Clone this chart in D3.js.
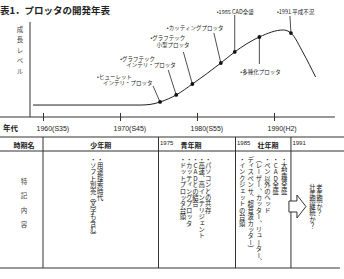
<!DOCTYPE html>
<html><head><meta charset="utf-8">
<script src="https://cdn.jsdelivr.net/npm/d3@7"></script>
<style>
body{margin:0;background:#fff}
text{font-family:"Noto Sans CJK JP",sans-serif;fill:#222}
.vt{writing-mode:vertical-rl;text-orientation:upright}
</style></head><body>
<script>
// axis ticks
const tickYears = [1960, 1970, 1980, 1990]
const tickLabels = ["1960(S35)", "1970(S45)", "1980(S55)", "1990(H2)"]
// growth curve (year, level 0-100)
const curveYears = [1958.7, 1967.4, 1972.6, 1973.9, 1975.2, 1977.3, 1979.4, 1983.1, 1984.9, 1988.1, 1991.2, 1992.2, 1993.8, 1995.4]
const curveLevels = [13.5, 13.5, 13.5, 14.1, 16.7, 24.0, 35.4, 57.3, 68.8, 84.4, 91.7, 88.5, 67.7, 42.7]
// marked events on the curve
const eventYears = [1975.2, 1977.3, 1979.4, 1983.1, 1984.9, 1988.1, 1992.2]
const eventLevels = [16.7, 24.0, 35.4, 57.3, 68.8, 84.4, 88.5]
const eventLabels = [
  ["•ヒューレット", "インテリ・プロッタ"],
  ["•グラフテック", "インテリ・プロッタ"],
  ["•グラフテック", "小型プロッタ"],
  ["•カッティングプロッタ"],
  ["•1985 CAD全盛"],
  ["•多種化プロッタ"],
  ["•1991 平成不況"]
]
// table
const periodBounds = [1960, 1975, 1985, 1992.2]
const periodYears = ["", "1975", "1985", "1991"]
const periodNames = ["少年期", "青年期", "壮年期", ""]
const periodNotes = [
  ["・用途探索時代", "・ソフト別売（文字も含む）"],
  ["・パソコンとの共存", "・高速、高インテリジェント", "・CADとの結合", "・カッティングプロッタ", "・ドットプロッタ台頭"],
  ["・大型機全盛", "・CAD全盛", "・ペン以外のヘッド", "（レーザー、カッター、リューター、", "ディスペンサ、超音波カッター）", "・インクジェットの台頭"],
  ["老年期か？", "壮年期継続か？"]
]

var width = 344, height = 279
var svg = d3.select("body").append("svg").attr("width", width).attr("height", height)

var x = d3.scaleLinear().domain([1960, 1990]).range([43, 274])
var y = d3.scaleLinear().domain([0, 100]).range([118, 22])

// title
svg.append("text").attr("x", 0).attr("y", 14)
  .style("font-size", "9.5px").style("font-weight", "bold")
  .text("表1．プロッタの開発年表")

// y label
svg.append("text").attr("class", "vt").attr("x", 20).attr("y", 26)
  .style("font-size", "6.5px").style("letter-spacing", "4px").style("fill", "#444")
  .text("成長レベル")

// axes
var axisY = 117
svg.append("line").attr("x1", 30).attr("x2", 30).attr("y1", 22).attr("y2", axisY).attr("stroke", "#333")
svg.append("line").attr("x1", 0).attr("x2", 335).attr("y1", axisY).attr("y2", axisY).attr("stroke", "#333")
var xAxis = d3.axisBottom(x).tickValues(tickYears).tickFormat((d, i) => tickLabels[i]).tickSize(4).tickPadding(5)
var gx = svg.append("g").attr("transform", "translate(0," + axisY + ")").call(xAxis)
gx.select(".domain").remove()
gx.selectAll(".tick line").attr("y1", -4).attr("stroke", "#333")
gx.selectAll(".tick text").attr("text-anchor", "start").attr("dx", -7)
  .style("font-size", "7px").style("font-family", "Liberation Sans")
svg.append("text").attr("x", 3).attr("y", 131).style("font-size", "7.5px").style("font-weight", "bold").text("年代")

// curve
var curve = curveYears.map((d, i) => [d, curveLevels[i]])
var line = d3.line().x(d => x(d[0])).y(d => y(d[1])).curve(d3.curveMonotoneX)
svg.append("path").attr("d", line(curve)).attr("fill", "none").attr("stroke", "#222").attr("stroke-width", 1)

// leader line start (lx,ly) and text origin (tx,ty), offsets from the dot
const labelLayout = [
  {lx: -7, ly: -16, tx: -63, ty: -23},
  {lx: -8, ly: -25, tx: -56, ty: -34},
  {lx: -9, ly: -32, tx: -42, ty: -44},
  {lx: -7, ly: -30, tx: -54, ty: -33},
  {lx: 0, ly: -37, tx: -18, ty: -38},
  {lx: 0, ly: 27, tx: -19, ty: 37},
  {lx: -1, ly: -17, tx: -14, ty: -19}
]
var ev = svg.append("g").selectAll("g").data(eventYears).enter().append("g")
  .attr("transform", (d, i) => "translate(" + x(d) + "," + y(eventLevels[i]) + ")")
ev.append("line").attr("x1", (d, i) => labelLayout[i].lx).attr("y1", (d, i) => labelLayout[i].ly)
  .attr("x2", 0).attr("y2", 0).attr("stroke", "#222").attr("stroke-width", 0.8)
ev.append("circle").attr("r", 1.9).attr("fill", "#111")
ev.each(function(d, i) {
  var L = labelLayout[i]
  eventLabels[i].forEach((t, k) => {
    d3.select(this).append("text").attr("x", L.tx + (k ? 6 : 0)).attr("y", L.ty + k * 6.5)
      .style("font-size", "5.5px").text(t)
  })
})

// table
var tTop = 137, tHead = 151, tBot = 268
var tbl = svg.append("g").attr("stroke", "#333").attr("stroke-width", 1)
tbl.append("line").attr("x1", 0).attr("x2", width).attr("y1", tTop).attr("y2", tTop)
tbl.append("line").attr("x1", 0).attr("x2", width).attr("y1", tHead).attr("y2", tHead)
tbl.append("line").attr("x1", 0).attr("x2", 340).attr("y1", tBot).attr("y2", tBot)
tbl.selectAll(".col").data(periodBounds).enter().append("line")
  .attr("x1", d => x(d)).attr("x2", d => x(d)).attr("y1", tTop).attr("y2", tBot)

svg.append("text").attr("x", 24).attr("y", 148).attr("text-anchor", "middle")
  .style("font-size", "7px").style("font-weight", "bold").text("時期名")
svg.append("text").attr("class", "vt").attr("x", 24).attr("y", 178)
  .style("font-size", "6.5px").style("letter-spacing", "8px").style("fill", "#444").text("特記内容")

const cellStyle = [
  {dx: -4, s: 7, top: 156},
  {dx: -1.5, s: 6.3, top: 156},
  {dx: 0, s: 8.4, top: 156},
  {dx: -1.5, s: 7, top: 184}
]
periodBounds.forEach((b, i) => {
  var left = x(b), right = i < periodBounds.length - 1 ? x(periodBounds[i + 1]) : width
  var c = (left + right) / 2
  if (periodYears[i]) svg.append("text").attr("x", left + 1.5).attr("y", 145)
    .style("font-size", "6px").style("font-family", "Liberation Sans").text(periodYears[i])
  if (periodNames[i]) svg.append("text").attr("x", i ? left + 22 : c).attr("y", 148)
    .attr("text-anchor", i ? "start" : "middle")
    .style("font-size", "7px").style("font-weight", "bold").text(periodNames[i])
  var cs = cellStyle[i], n = periodNotes[i].length
  periodNotes[i].forEach((t, j) => {
    svg.append("text").attr("class", "vt")
      .attr("x", c + cs.dx + ((n - 1) / 2 - j) * cs.s).attr("y", cs.top)
      .style("font-size", "6.4px").text(t)
  })
})

// outlined arrow into the last period
var ax = x(periodBounds[3])
svg.append("path")
  .attr("d", d3.line()([[ax - 2, 201], [ax + 6, 201], [ax + 6, 195], [ax + 15, 206.5], [ax + 6, 218], [ax + 6, 212], [ax - 2, 212]]) + "Z")
  .attr("fill", "#fff").attr("stroke", "#333").attr("stroke-width", 1)
</script>
</body></html>
